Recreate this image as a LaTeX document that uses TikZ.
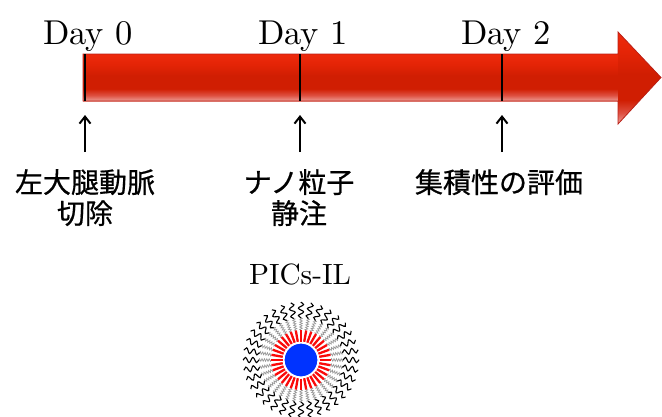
\documentclass[tikz,border=0pt]{standalone}
\usepackage{fontspec}
\newfontfamily\jpfont[FakeBold=0.6]{Noto Sans CJK JP}
\newfontfamily\lmten[Extension=.otf]{lmroman10-regular}
\usetikzlibrary{arrows.meta,decorations.pathmorphing}

\definecolor{bartop}{RGB}{238,42,12}
\definecolor{barupper}{RGB}{228,36,6}
\definecolor{barmid}{RGB}{208,30,2}
\definecolor{barfade}{RGB}{222,80,66}
\definecolor{barlow}{RGB}{236,158,150}
\definecolor{arrowedge}{RGB}{186,32,22}
\definecolor{coreblue}{RGB}{0,51,255}
\definecolor{spokered}{RGB}{250,10,10}

% vertical shading of the time bar: 25bp = bottom edge, 75bp = top edge
\pgfdeclareverticalshading{redbar}{100bp}{%
  color(0bp)=(barlow); color(25bp)=(barlow); color(31bp)=(barfade);
  color(38bp)=(barmid); color(52bp)=(barmid); color(64bp)=(barupper);
  color(75bp)=(bartop); color(100bp)=(bartop)}

\tikzset{
  daylabel/.style={font=\lmten\fontsize{34.5}{40}\selectfont, anchor=base, inner sep=0pt},
  jplabel/.style={font=\jpfont\fontsize{28}{31}\selectfont, align=center, anchor=north, inner sep=0pt},
  tick/.style={line width=2pt, black},
  pointer/.style={line width=2pt, -{Straight Barb[length=7pt,width=11pt,line width=2pt]}},
  spoke/.style={spokered, line width=2.3pt},
  tailin/.style={black!40, line width=0.7pt, decorate,
    decoration={zigzag, segment length=2.4pt, amplitude=1.3pt}},
  tailout/.style={black, line width=1.1pt, decorate,
    decoration={snake, segment length=7.5pt, amplitude=2.6pt}},
}

\begin{document}
\begin{tikzpicture}[x=1pt,y=-1pt]
\useasboundingbox (0,0) rectangle (662,416);

% time bar: body and head
\shade[shading=redbar] (83,54) rectangle (619,101);
\shade[shading=redbar] (618,32) -- (661,77.5) -- (618,124) -- cycle;
\draw[arrowedge, line width=0.8pt, line join=miter]
  (83,54) -- (618,54) -- (618,32) -- (661,77.5) -- (618,124) -- (618,101) -- (83,101) -- cycle;

% day marks
\coordinate (t0top) at (85,54);   \coordinate (t0bot) at (85,101);
\coordinate (t1top) at (300,54);  \coordinate (t1bot) at (300,101);
\coordinate (t2top) at (502,54);  \coordinate (t2bot) at (502,101);
\draw[tick] (t0top) -- (t0bot);
\draw[tick] (t1top) -- (t1bot);
\draw[tick] (t2top) -- (t2bot);

\node[daylabel] (d0) at (88,44) {Day 0};
\node[daylabel] (d1) at (303,44) {Day 1};
\node[daylabel] (d2) at (506,44) {Day 2};

% events
\node[jplabel] (e0) at (85,169) {左大腿動脈\\切除};
\node[jplabel] (e1) at (299,169) {ナノ粒子\\静注};
\node[jplabel] (e2) at (499,169) {集積性の評価};

\coordinate (p0) at (85,115);
\coordinate (p1) at (300,115);
\coordinate (p2) at (502,115);
\draw[pointer] (85,152) -- (p0);
\draw[pointer] (300,152) -- (p1);
\draw[pointer] (502,152) -- (p2);

% particle
\node[daylabel, font=\lmten\fontsize{29.3}{34}\selectfont] (pname) at (300,284) {PICs-IL};
\coordinate (c) at (301,360);
\foreach \a in {0,10,...,350} {
  \draw[tailin] (c) ++(\a:30) -- ++(\a:13);
  \draw[tailout] (c) ++(\a:42) -- ++(\a:16);
  \draw[spoke] (c) ++(\a:18.5) -- ++(\a:11.5);
}
\node[circle, fill=coreblue, draw=white, line width=1.2pt, minimum size=34pt, inner sep=0pt] (core) at (c) {};
\end{tikzpicture}
\end{document}
